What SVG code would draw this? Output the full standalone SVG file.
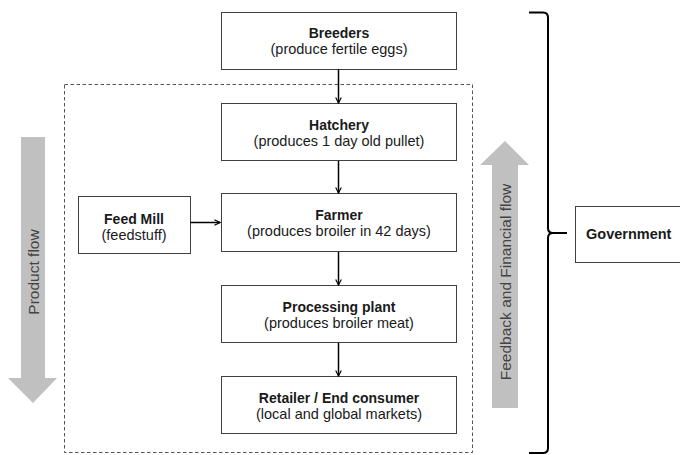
<svg xmlns="http://www.w3.org/2000/svg" width="680" height="455" viewBox="0 0 680 455">
<style>
.box{fill:#fff;stroke:#404040;stroke-width:1}
.t{font-family:"Liberation Sans",Arial,sans-serif;font-size:14.5px;fill:#1a1a1a;text-anchor:middle}
.b{font-weight:bold;font-size:14px}
.conn{stroke:#000;stroke-width:1.5;fill:none;marker-end:url(#ah)}
.flow{fill:#c0c0c0}
.ft{font-family:"Liberation Sans",Arial,sans-serif;font-size:15.5px;fill:#444;text-anchor:middle}
</style>
<defs>
<marker id="ah" viewBox="0 0 10 10" refX="9" refY="5" markerWidth="7" markerHeight="7" markerUnits="userSpaceOnUse" orient="auto">
<path d="M1,1 L9,5 L1,9" fill="none" stroke="#000" stroke-width="1.6"/>
</marker>
</defs>
<rect x="64.5" y="84.5" width="408" height="368" fill="none" stroke="#555" stroke-width="1" stroke-dasharray="3.5,2.5"/>
<g id="product-flow">
<polygon class="flow" points="21,137 45,137 45,378 57,378 33,403 8,378 21,378"/>
<text class="ft" transform="translate(38.5,272) rotate(-90)">Product flow</text>
</g>
<g id="feedback-flow">
<polygon class="flow" points="492,408 518,408 518,165 529,165 505,141 480,165 492,165"/>
<text class="ft" transform="translate(510.5,282) rotate(-90)">Feedback and Financial flow</text>
</g>
<g id="breeders">
<rect class="box" x="221.5" y="12.5" width="235" height="57"/>
<text class="t b" x="339" y="38">Breeders</text>
<text class="t" x="339" y="54">(produce fertile eggs)</text>
</g>
<g id="hatchery">
<rect class="box" x="221.5" y="103.5" width="235" height="57"/>
<text class="t b" x="339" y="130">Hatchery</text>
<text class="t" x="339" y="146">(produces 1 day old pullet)</text>
</g>
<g id="feedmill">
<rect class="box" x="78.5" y="196.5" width="112" height="57"/>
<text class="t b" x="134" y="224">Feed Mill</text>
<text class="t" x="134" y="240">(feedstuff)</text>
</g>
<g id="farmer">
<rect class="box" x="221.5" y="193.5" width="235" height="58"/>
<text class="t b" x="339" y="220">Farmer</text>
<text class="t" x="339" y="236">(produces broiler in 42 days)</text>
</g>
<g id="processing">
<rect class="box" x="221.5" y="285.5" width="235" height="57"/>
<text class="t b" x="339" y="312">Processing plant</text>
<text class="t" x="339" y="328">(produces broiler meat)</text>
</g>
<g id="retailer">
<rect class="box" x="221.5" y="376.5" width="235" height="57"/>
<text class="t b" x="339" y="403">Retailer / End consumer</text>
<text class="t" x="339" y="419">(local and global markets)</text>
</g>
<g id="government">
<rect class="box" x="575.5" y="206.5" width="110" height="56"/>
<text class="t b" x="586" y="239" style="text-anchor:start;font-size:14.5px">Government</text>
</g>
<g id="connectors">
<line class="conn" x1="338.5" y1="69" x2="338.5" y2="103"/>
<line class="conn" x1="338.5" y1="161" x2="338.5" y2="193"/>
<line class="conn" x1="338.5" y1="252" x2="338.5" y2="285"/>
<line class="conn" x1="338.5" y1="343" x2="338.5" y2="376"/>
<line class="conn" x1="190" y1="222.5" x2="220" y2="222.5"/>
<path d="M529,12.5 L543,12.5 Q548,12.5 548,17.5 L548,228 Q548,233 553,233 L567,233 M553,233 Q548,233 548,238 L548,448 Q548,453 543,453 L529,453" fill="none" stroke="#000" stroke-width="2"/>
</g>
</svg>
